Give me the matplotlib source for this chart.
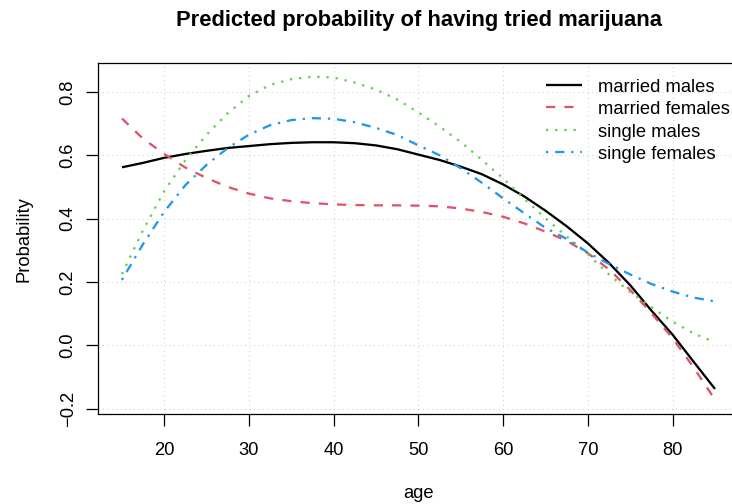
import matplotlib
matplotlib.use("Agg")
import matplotlib.pyplot as plt
from matplotlib.lines import Line2D

plt.rcParams['font.family'] = ['Liberation Sans', 'DejaVu Sans']

age = [15, 17.5, 20, 22.5, 25, 27.5, 30, 32.5, 35, 37.5, 40, 42.5, 45, 47.5,
       50, 52.5, 55, 57.5, 60, 62.5, 65, 67.5, 70, 72.5, 75, 77.5, 80, 82.5, 85]

married_males = [0.562, 0.576, 0.592, 0.604, 0.614, 0.623, 0.629, 0.635, 0.639,
                 0.641, 0.641, 0.638, 0.631, 0.619, 0.602, 0.585, 0.564, 0.540,
                 0.508, 0.470, 0.425, 0.376, 0.322, 0.260, 0.190, 0.110, 0.034,
                 -0.052, -0.137]
married_females = [0.716, 0.652, 0.604, 0.561, 0.528, 0.500, 0.479, 0.464, 0.455,
                   0.449, 0.445, 0.443, 0.442, 0.442, 0.441, 0.439, 0.432, 0.421,
                   0.406, 0.385, 0.359, 0.330, 0.291, 0.240, 0.175, 0.102, 0.023,
                   -0.070, -0.171]
single_males = [0.225, 0.364, 0.487, 0.585, 0.665, 0.733, 0.787, 0.822, 0.840,
                0.848, 0.845, 0.829, 0.807, 0.776, 0.735, 0.690, 0.642, 0.585,
                0.527, 0.462, 0.401, 0.344, 0.288, 0.224, 0.168, 0.121, 0.075,
                0.038, 0.010]
single_females = [0.207, 0.320, 0.422, 0.506, 0.570, 0.623, 0.665, 0.695, 0.711,
                  0.717, 0.715, 0.704, 0.686, 0.664, 0.631, 0.600, 0.559, 0.513,
                  0.464, 0.417, 0.371, 0.336, 0.293, 0.257, 0.224, 0.194, 0.170,
                  0.151, 0.139]

labels = ["married males", "married females", "single males", "single females"]
colors = ["#000000", "#DF536B", "#61D04F", "#2297E6"]
xticks = [20, 30, 40, 50, 60, 70, 80]
yticks = [-0.2, 0.0, 0.2, 0.4, 0.6, 0.8]
ytick_labels = ["\u22120.2", "0.0", "0.2", "0.4", "0.6", "0.8"]

W, H = 732, 504
fig = plt.figure(figsize=(W / 100, H / 100), dpi=100)
left, right, top, bottom = 98.2, 738.7, 63.3, 414.3
ax = fig.add_axes([left / W, 1 - bottom / H, (right - left) / W, (bottom - top) / H])
ax.set_xlim(12.2, 87.8)
ax.set_ylim(-0.217, 0.890)

lw = 1.65
series = [married_males, married_females, single_males, single_females]
dashes = [None, (4, 4), (1, 3), (1, 3, 4, 3)]


def style(d):
    if d is None:
        return dict(solid_capstyle='butt')
    return dict(dashes=d, dash_capstyle='butt')


for vals, lab, col, d in zip(series, labels, colors, dashes):
    ax.plot(age, vals, color=col, lw=lw, label=lab, **style(d))

ax.set_xticks(xticks)
ax.set_yticks(yticks)
ax.set_yticklabels(ytick_labels)
ax.grid(True, color='#D3D3D3', lw=0.8, linestyle=(0, (1, 3)))
ax.set_axisbelow(True)
for s in ax.spines.values():
    s.set_linewidth(0.9)
    s.set_color('black')
tick_len_px = 11.8
ax.tick_params(axis='both', direction='out', length=tick_len_px * 0.72, width=0.9,
               labelsize=13.2, colors='black')
# x labels: baseline at y=455.3 px
ax.tick_params(axis='x', pad=(455.3 - bottom - tick_len_px) * 0.72)
for t in ax.get_xticklabels():
    t.set_va('baseline')
# y labels: baseline at x=72.7 px
ax.tick_params(axis='y', pad=(left - tick_len_px - 72.7) * 0.72)
for t in ax.get_yticklabels():
    t.set_rotation(90)
    t.set_rotation_mode('anchor')
    t.set_va('baseline')
    t.set_ha('center')

fig.text(418.5 / W, 1 - 26 / H, "Predicted probability of having tried marijuana",
         ha='center', va='baseline', fontsize=15.8, fontweight='bold')
fig.text(418.5 / W, 1 - 498.5 / H, "age", ha='center', va='baseline', fontsize=13.2)
fig.text(29.0 / W, 1 - 238.8 / H, "Probability", ha='center', va='baseline',
         rotation=90, rotation_mode='anchor', fontsize=13.2)

# legend (no box, top right)
leg_rows = [85.0, 107.4, 129.8, 152.2]
for yy, lab, col, d in zip(leg_rows, labels, colors, dashes):
    fig.add_artist(Line2D([546 / W, 581.7 / W], [1 - yy / H, 1 - yy / H],
                          color=col, lw=lw, transform=fig.transFigure, **style(d)))
    fig.text(598.3 / W, 1 - (yy + 7.0) / H, lab, ha='left', va='baseline',
             fontsize=13.2)

fig.savefig("out.png", dpi=100)
